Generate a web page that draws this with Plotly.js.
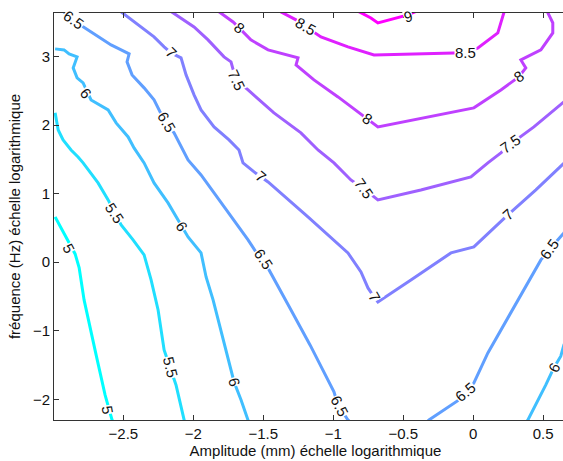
<!DOCTYPE html>
<html>
<head>
<meta charset="utf-8">
<script src="https://cdn.plot.ly/plotly-3.0.1.min.js"></script>
<style>
html,body{margin:0;padding:0;overflow:hidden;background:#fff;}
#chart{width:577px;height:461px;}
</style>
</head>
<body>
<div id="chart"></div>
<script>
// Contour lines (x = log amplitude, y = log frequency)
const c5_level = 5;
const c5_x = [-2.988,-2.931,-2.874,-2.845,-2.816,-2.781,-2.695,-2.631,-2.581,-2.575];
const c5_y = [0.661,0.442,0.238,0.121,-0.083,-0.550,-1.353,-1.937,-2.302,-2.33];

const c55_level = 5.5;
const c55_x = [-2.988,-2.974,-2.966,-2.931,-2.874,-2.824,-2.788,-2.681,-2.609,-2.566,-2.516,-2.431,-2.352,-2.302,-2.252,-2.209,-2.166,-2.124,-2.066,-2.06];
const c55_y = [2.180,2.048,1.931,1.785,1.639,1.537,1.450,1.158,0.909,0.734,0.545,0.326,0.107,-0.258,-0.696,-1.280,-1.528,-1.791,-2.302,-2.33];

const c6_level = 6;
const c6_x = [-2.988,-2.924,-2.888,-2.831,-2.859,-2.831,-2.788,-2.759,-2.731,-2.609,-2.552,-2.466,-2.424,-2.352,-2.281,-2.181,-2.088,-2.038,-1.945,-1.909,-1.859,-1.788,-1.709,-1.659,-1.609,-1.605];
const c6_y = [3.114,3.099,3.041,2.997,2.836,2.691,2.618,2.486,2.369,2.223,2.034,1.829,1.669,1.450,1.158,0.866,0.545,0.369,0.136,-0.215,-0.550,-1.134,-1.747,-2.010,-2.302,-2.33];

const c65a_level = 6.5;
const c65a_x = [-2.93,-2.859,-2.788,-2.681,-2.588,-2.516,-2.459,-2.474,-2.438,-2.352,-2.281,-2.209,-2.138,-2.038,-1.945,-1.852,-1.609,-1.516,-1.459,-1.302,-1.166,-0.995,-0.966,-0.895,-0.88];
const c65a_y = [3.66,3.537,3.435,3.289,3.172,3.099,3.041,2.924,2.734,2.545,2.369,2.077,1.888,1.493,1.274,1.012,0.326,0.034,-0.112,-0.696,-1.207,-1.893,-2.083,-2.302,-2.33];

const c65b_level = 6.5;
const c65b_x = [-0.33,-0.316,-0.102,-0.052,0.005,0.105,0.319,0.405,0.484,0.548,0.648,0.748];
const c65b_y = [-2.33,-2.302,-2.010,-1.893,-1.762,-1.324,-0.550,-0.258,0.034,0.194,0.428,0.690];

const c6b_level = 6;
const c6b_x = [0.38,0.391,0.519,0.576,0.626,0.648,0.748];
const c6b_y = [-2.33,-2.302,-1.791,-1.543,-1.372,-1.207,-0.813];

const c7_level = 7;
const c7_x = [-2.52,-2.374,-2.281,-2.209,-2.159,-2.088,-2.052,-1.995,-1.945,-1.852,-1.745,-1.674,-1.645,-1.566,-1.466,-1.181,-0.895,-0.802,-0.752,-0.709,-0.681,-0.445,-0.159,0.005,0.248,0.448,0.648,0.748];
const c7_y = [3.66,3.435,3.289,3.143,3.055,2.982,2.734,2.442,2.223,1.975,1.785,1.639,1.450,1.318,1.172,0.661,0.136,-0.142,-0.375,-0.507,-0.580,-0.258,0.136,0.223,0.691,1.055,1.450,1.639];

const c75_level = 7.5;
const c75_x = [-2.16,-2.074,-1.995,-1.895,-1.781,-1.731,-1.695,-1.609,-1.424,-1.231,-1.109,-0.995,-0.874,-0.781,-0.681,-0.374,-0.016,0.105,0.198,0.269,0.434,0.648,0.748];
const c75_y = [3.66,3.537,3.435,3.245,2.997,2.924,2.661,2.515,2.180,1.888,1.639,1.450,1.201,1.070,0.909,1.055,1.245,1.450,1.596,1.727,1.975,2.340,2.486];

const c8_level = 8;
const c8_x = [-1.82,-1.716,-1.673,-1.589,-1.466,-1.252,-1.266,-1.138,-0.966,-0.824,-0.760,-0.681,0.005,0.198,0.326,0.376,0.341,0.484,0.569,0.569,0.534,0.53];
const c8_y = [3.66,3.507,3.420,3.245,3.099,2.982,2.880,2.661,2.413,2.194,2.091,1.975,2.253,2.515,2.705,2.836,2.953,3.099,3.347,3.493,3.639,3.66];

const c85_level = 8.5;
const c85_x = [-1.38,-1.266,-1.195,-1.088,-0.895,-0.709,-0.138,-0.052,0.034,0.176,0.219,0.222];
const c85_y = [3.66,3.537,3.435,3.289,3.143,3.026,3.055,3.055,3.128,3.347,3.639,3.66];

const c9_level = 9;
const c9_x = [-0.82,-0.731,-0.681,-0.538,-0.466,-0.41];
const c9_y = [3.66,3.566,3.493,3.566,3.610,3.66];

// Contour labels
const labelText  = ["5","5","5.5","5.5","6","6","6","6.5","6.5","6.5","6.5","6.5","6.5","6","7","7","7","7","7.5","7.5","7.5","8","8","8","8.5","8.5","9"];
const labelX     = [-2.888,-2.616,-2.566,-2.166,-2.765,-2.081,-1.709,-2.859,-2.195,-1.502,-0.958,-0.052,0.548,0.578,-2.159,-1.516,-0.709,0.248,-1.695,-0.781,0.269,-1.673,-0.760,0.326,-1.195,-0.052,-0.466];
const labelY     = [0.204,-2.156,0.720,-1.528,2.470,0.526,-1.747,3.537,2.047,0.048,-2.098,-1.893,0.194,-1.537,3.055,1.257,-0.507,0.691,2.661,1.070,1.727,3.420,2.091,2.705,3.435,3.055,3.590];
const labelAngle = [62,80,57,76,50,58,74,35,60,57,62,-40,-55,-62,45,40,60,-42,65,55,-35,40,33,-35,30,0,-15];

const xTicks = [-2.5,-2,-1.5,-1,-0.5,0,0.5];
const yTicks = [-2,-1,0,1,2,3];

function coolColor(v){
  const t = (v - 5) / 4;
  return 'rgb(' + Math.round(255*t) + ',' + Math.round(255*(1-t)) + ',255)';
}

const lines = [
  [c5_x,c5_y,c5_level],[c55_x,c55_y,c55_level],[c6_x,c6_y,c6_level],
  [c65a_x,c65a_y,c65a_level],[c65b_x,c65b_y,c65b_level],[c6b_x,c6b_y,c6b_level],
  [c7_x,c7_y,c7_level],[c75_x,c75_y,c75_level],[c8_x,c8_y,c8_level],
  [c85_x,c85_y,c85_level],[c9_x,c9_y,c9_level]
];

const traces = lines.map(l => ({
  type:'scatter', mode:'lines', x:l[0], y:l[1],
  line:{color:coolColor(l[2]), width:3},
  hoverinfo:'skip', showlegend:false
}));

const annotations = labelText.map((t,i) => ({
  x:labelX[i], y:labelY[i], xref:'x', yref:'y', text:t, showarrow:false,
  textangle:labelAngle[i], bgcolor:'#ffffff', borderpad:0,
  font:{family:'Liberation Sans, Arial, sans-serif', size:15, color:'#111'}
}));

const axisFont = {family:'Liberation Sans, Arial, sans-serif', size:15, color:'#111'};

const layout = {
  width:577, height:461,
  margin:{l:54, r:0, t:13, b:41},
  paper_bgcolor:'#fff', plot_bgcolor:'#fff',
  showlegend:false,
  xaxis:{
    range:[-2.996,0.742], tickvals:xTicks, ticks:'inside', ticklen:5, tickcolor:'#333',
    showline:true, linecolor:'#333', linewidth:1, mirror:'ticks',
    showgrid:false, zeroline:false, tickfont:axisFont,
    title:{text:'Amplitude (mm) échelle logarithmique', font:axisFont, standoff:4}
  },
  yaxis:{
    range:[-2.3026,3.6376], tickvals:yTicks, ticks:'inside', ticklen:5, tickcolor:'#333',
    showline:true, linecolor:'#333', linewidth:1, mirror:'ticks',
    showgrid:false, zeroline:false, tickfont:axisFont,
    title:{text:'fréquence (Hz) échelle logarithmique', font:axisFont, standoff:8}
  },
  annotations:annotations
};

Plotly.newPlot('chart', traces, layout, {displayModeBar:false, staticPlot:true});
</script>
</body>
</html>
